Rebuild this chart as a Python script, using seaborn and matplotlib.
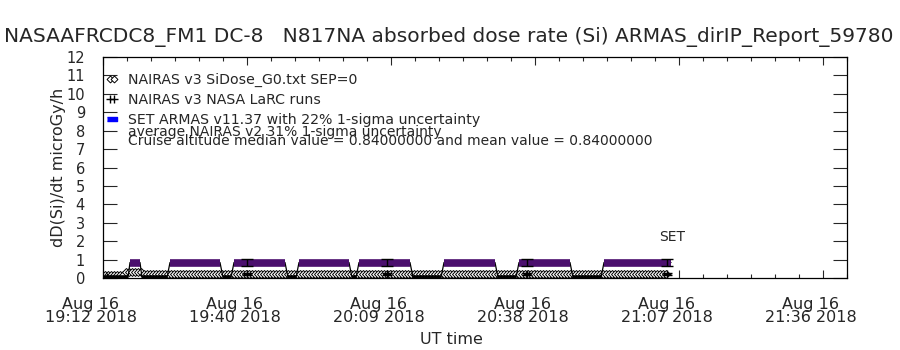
import numpy as np
import pandas as pd
import matplotlib
matplotlib.use("Agg")
import matplotlib.pyplot as plt
import matplotlib.transforms as mtrans
from matplotlib.lines import Line2D
from matplotlib.legend_handler import HandlerLine2D
import seaborn as sns

sns.set_style("white")
plt.rcParams['font.family'] = ['DejaVu Sans']

# ---------------- data (time in minutes after 19:12 UT, 16 Aug 2018) ----------------
tick_minutes = [0, 28.8, 57.6, 86.4, 115.2, 144.0]
tick_labels = ["Aug 16\n19:12 2018", "Aug 16\n19:40 2018", "Aug 16\n20:09 2018",
               "Aug 16\n20:38 2018", "Aug 16\n21:07 2018", "Aug 16\n21:36 2018"]

# ARMAS measured dose rate (vertices of the trace)
armas_time = [0.4, 5.0, 5.4, 7.4, 7.8, 12.8, 13.4, 23.4, 24.0, 25.6, 26.2, 36.4, 37.0,
              38.6, 39.2, 49.2, 49.8, 50.6, 51.2, 61.4, 62.0, 67.6, 68.2, 78.4, 79.0,
              82.6, 83.2, 93.4, 94.0, 99.6, 100.2, 113.6]
armas_rate = [0.03, 0.03, 0.84, 0.84, 0.03, 0.03, 0.84, 0.84, 0.03, 0.03, 0.84, 0.84, 0.03,
              0.03, 0.84, 0.84, 0.03, 0.03, 0.84, 0.84, 0.03, 0.03, 0.84, 0.84, 0.03,
              0.03, 0.84, 0.84, 0.03, 0.03, 0.84, 0.84]
# cruise segments (ARMAS symbols)
cruise_start = [5.4, 13.4, 26.2, 39.2, 51.2, 68.2, 83.2, 100.2]
cruise_end = [7.4, 23.4, 36.4, 49.2, 61.4, 78.4, 93.4, 113.6]
cruise_rate = [0.84, 0.84, 0.84, 0.84, 0.84, 0.84, 0.84, 0.84]
# low-altitude segments between cruises
low_start = [0.4, 7.8, 24.0, 37.0, 49.8, 62.0, 79.0, 94.0]
low_end = [5.0, 12.8, 25.6, 38.6, 50.6, 67.6, 82.6, 99.6]
low_rate = [0.03, 0.03, 0.03, 0.03, 0.03, 0.03, 0.03, 0.03]
# ARMAS 22% uncertainty bars
armas_err_time = [28.8, 56.8, 84.8, 112.8]
armas_err_rate = [0.84, 0.84, 0.84, 0.84]
armas_err = [0.18, 0.18, 0.18, 0.18]

# NAIRAS v3 SiDose_G0 (one sample per 0.6 min); levels by interval
g0_start = 0.4
g0_stop = 112.9
g0_step = 0.6
g0_breaks = [0.4, 4.6, 8.0, 112.9]
g0_levels = [0.18, 0.32, 0.2]

# NAIRAS v3 NASA LaRC runs
larc_time = [0.8, 28.8, 56.8, 84.8, 112.8]
larc_rate = [0.06, 0.22, 0.22, 0.22, 0.22]
larc_err = [0.06, 0.07, 0.07, 0.07, 0.07]

# ---------------- build frames ----------------
armas = pd.DataFrame({"t": armas_time, "rate": armas_rate})
g0_t = np.arange(g0_start, g0_stop, g0_step)
g0_v = np.array(g0_levels)[np.clip(np.searchsorted(g0_breaks, g0_t, side="right") - 1, 0, len(g0_levels) - 1)]
g0 = pd.DataFrame({"t": g0_t, "rate": g0_v})
larc = pd.DataFrame({"t": larc_time, "rate": larc_rate, "err": larc_err})

purple = "#4b0f6e"

fig = plt.figure(figsize=(9, 3.5), dpi=100)
ax = fig.add_axes([103 / 900, (350 - 278) / 350, 744 / 900, 221 / 350])

# G0 model
sns.lineplot(data=g0, x="t", y="rate", ax=ax, color="black", lw=0.8,
             marker="D", markersize=4.2, markerfacecolor="white", markeredgecolor="black",
             markeredgewidth=0.7, zorder=2)
# ARMAS trace
sns.lineplot(data=armas, x="t", y="rate", ax=ax, color="black", lw=0.9, zorder=3, sort=False)
ax.hlines(cruise_rate, cruise_start, cruise_end, colors=purple, lw=5.5, zorder=4)
ax.hlines(low_rate, low_start, low_end, colors="black", lw=2.6, zorder=3)
ax.errorbar(armas_err_time, armas_err_rate, yerr=armas_err, fmt="none", ecolor="black",
            elinewidth=1.0, capsize=4, capthick=1.0, zorder=5)
# LaRC runs
sns.scatterplot(data=larc, x="t", y="rate", ax=ax, marker="+", s=40, color="black",
                linewidth=1.0, zorder=6)
ax.errorbar(larc["t"], larc["rate"], yerr=larc["err"], fmt="none", ecolor="black",
            elinewidth=1.0, capsize=3.5, capthick=1.0, zorder=6)

ax.text(113.8, 2.23, "SET", fontsize=10, ha="center", va="center")

# axes
ax.set_xlim(0, 148.8)
ax.set_ylim(0, 12)
ax.set_yticks(range(0, 13))
ax.set_yticklabels([str(i) for i in range(0, 13)], fontsize=10.5)
ax.set_xticks(tick_minutes)
ax.set_xticklabels(tick_labels, fontsize=11.5, linespacing=0.78)
ax.set_xticks(np.arange(0, 148.8, 4.8), minor=True)
ax.tick_params(axis="x", which="major", direction="in", length=6, width=0.8, top=True,
               bottom=True, pad=14)
ax.tick_params(axis="x", which="minor", direction="in", length=3, width=0.8, top=True,
               bottom=True)
ax.tick_params(axis="y", which="major", direction="in", length=10, width=0.8, left=True,
               right=True, pad=13)
for lab in ax.get_xticklabels():
    lab.set_transform(lab.get_transform() + mtrans.ScaledTranslation(-12 / 100, 0, fig.dpi_scale_trans))
ax.set_xlabel("UT time", fontsize=11.5)
ax.xaxis.set_label_coords((451 - 103) / 744, (278 - 332) / 221)
ax.set_ylabel("dD(Si)/dt microGy/h", fontsize=11.5, labelpad=0)
for s in ax.spines.values():
    s.set_linewidth(0.9)
    s.set_color("black")

# legend
h1 = Line2D([], [], ls="none", marker="D", markersize=3.5, markerfacecolor="white",
            markeredgecolor="black", markeredgewidth=0.7)
h2 = Line2D([], [], ls="none", marker="+", markersize=6, color="black", markeredgewidth=1.0)
h3 = Line2D([], [], ls="none", marker=[(-1, -0.45), (1, -0.45), (1, 0.45), (-1, 0.45)],
            markersize=7, color="blue")
leg = ax.legend([h1, h2, h3],
                ["NAIRAS v3 SiDose_G0.txt SEP=0", "NAIRAS v3 NASA LaRC runs",
                 "SET ARMAS v11.37 with 22% 1-sigma uncertainty"],
                handler_map={h1: HandlerLine2D(numpoints=2), h2: HandlerLine2D(numpoints=2),
                             h3: HandlerLine2D(numpoints=1)},
                loc="upper left", bbox_to_anchor=(0.0, 0.942), frameon=False, fontsize=10.2,
                handlelength=0.9, handletextpad=0.7, labelspacing=0.42, borderaxespad=0.0,
                borderpad=0.2)
ax.text(0.0336, 0.661, "average NAIRAS v2 31% 1-sigma uncertainty", transform=ax.transAxes,
        fontsize=10, va="center")
ax.text(0.0336, 0.62, "Cruise altitude median value = 0.84000000 and mean value = 0.84000000",
        transform=ax.transAxes, fontsize=10, va="center")

fig.text(449 / 900, 1 - 37 / 350,
         "NASAAFRCDC8_FM1 DC-8   N817NA absorbed dose rate (Si) ARMAS_dirIP_Report_59780",
         ha="center", va="center", fontsize=14.5)

fig.savefig("out.png", dpi=100)
